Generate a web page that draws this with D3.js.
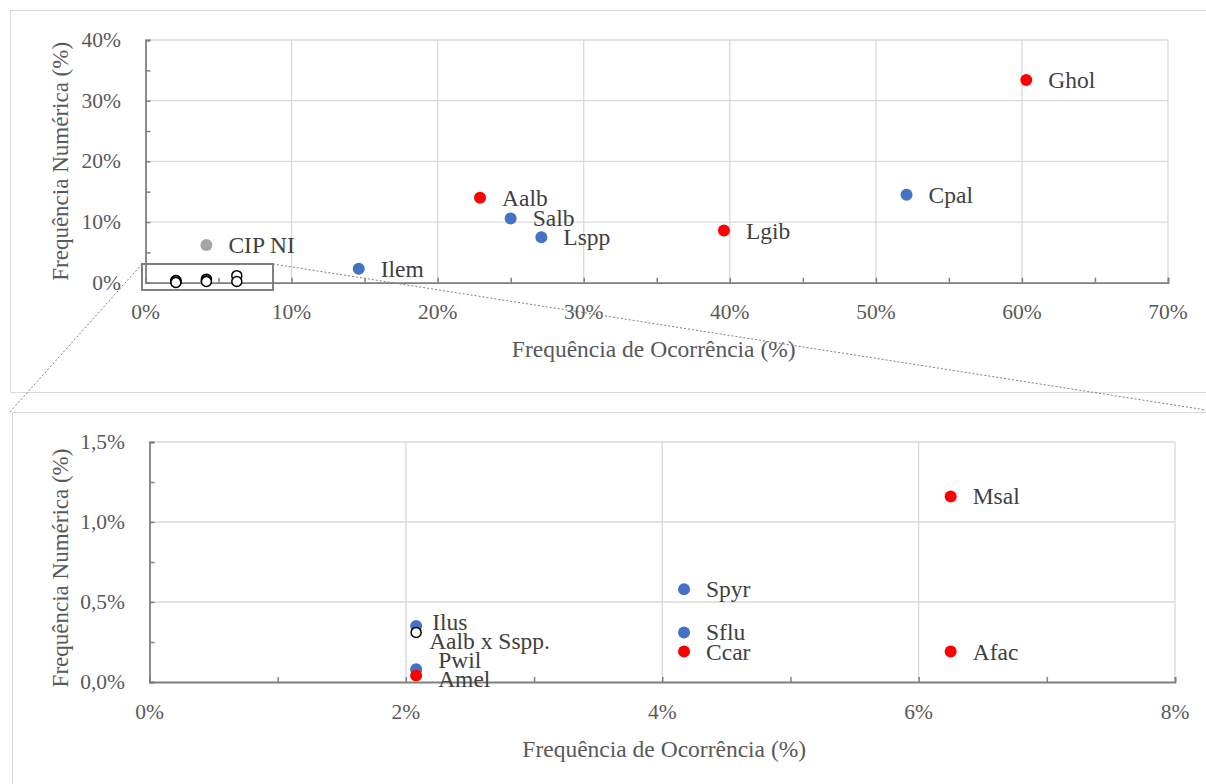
<!DOCTYPE html>
<html>
<head>
<meta charset="utf-8">
<script src="https://cdn.jsdelivr.net/npm/d3@7"></script>
<style>
  body { margin: 0; background: #fff; }
  svg { display: block; font-family: "Liberation Serif", "Times New Roman", serif; }
</style>
</head>
<body>
<svg id="chart" width="1206" height="784"></svg>
<script>
// ---- data (fractions) ----
var mainNames = ["Ghol", "Cpal", "Lgib", "Aalb", "Salb", "Lspp", "Ilem", "CIP NI"];
var mainFO    = [0.603, 0.521, 0.396, 0.229, 0.250, 0.271, 0.146, 0.0417];
var mainFN    = [0.334, 0.145, 0.086, 0.140, 0.106, 0.075, 0.023, 0.062];
var mainGroup = ["red", "blue", "red", "red", "blue", "blue", "blue", "grey"];

var rareNames = ["Msal", "Afac", "Spyr", "Sflu", "Ccar", "Ilus", "Aalb x Sspp.", "Pwil", "Amel"];
var rareFO    = [0.0625, 0.0625, 0.0417, 0.0417, 0.0417, 0.0208, 0.0208, 0.0208, 0.0208];
var rareFN    = [0.0116, 0.0019, 0.0058, 0.0031, 0.0019, 0.0035, 0.0031, 0.0008, 0.0004];
var rareGroup = ["red", "red", "blue", "blue", "red", "blue", "hybrid", "blue", "red"];

var topXTicks = [0, 0.1, 0.2, 0.3, 0.4, 0.5, 0.6, 0.7];
var topYTicks = [0, 0.1, 0.2, 0.3, 0.4];
var botXTicks = [0, 0.02, 0.04, 0.06, 0.08];
var botYTicks = [0, 0.005, 0.010, 0.015];

// label nudges for crowded points [dx, dy] in px
var labelNudge = {
  "Ilus": [16, -4], "Aalb x Sspp.": [13, 9], "Pwil": [22, -9], "Amel": [22, 3]
};

var colors = { red: "#ff0000", blue: "#4472c4", grey: "#a5a5a5" };
var pctInt = function (d) { return Math.round(d * 100) + "%"; };
var pctComma = function (d) { return (d * 100).toFixed(1).replace(".", ",") + "%"; };

var svg = d3.select("#chart");

// frames
svg.append("rect").attr("x", 10.5).attr("y", 10.5).attr("width", 1210).attr("height", 382)
  .attr("fill", "none").attr("stroke", "#d9d9d9");
svg.append("rect").attr("x", 12.5).attr("y", 412.5).attr("width", 1210).attr("height", 400)
  .attr("fill", "none").attr("stroke", "#d9d9d9");

function panel(opt) {
  var x = d3.scaleLinear().domain(opt.xDomain).range([opt.left, opt.right]);
  var y = d3.scaleLinear().domain(opt.yDomain).range([opt.bottom, opt.top]);
  var g = svg.append("g");

  // grid
  g.selectAll(".gx").data(opt.xTicks.slice(1)).join("line")
    .attr("x1", function (d) { return x(d); }).attr("x2", function (d) { return x(d); })
    .attr("y1", opt.top).attr("y2", opt.bottom)
    .attr("stroke", "#d9d9d9").attr("stroke-width", 1.3);
  g.selectAll(".gy").data(opt.yTicks.slice(1)).join("line")
    .attr("y1", function (d) { return y(d); }).attr("y2", function (d) { return y(d); })
    .attr("x1", opt.left).attr("x2", opt.right)
    .attr("stroke", "#d9d9d9").attr("stroke-width", 1.3);

  // axes
  var ax = g.append("g").attr("transform", "translate(0," + opt.bottom + ")")
    .call(d3.axisTop(x).tickValues(d3.range(opt.xDomain[0], opt.xDomain[1] + 1e-9, opt.xMinor))
      .tickSize(5).tickFormat(""));
  var ay = g.append("g").attr("transform", "translate(" + opt.left + ",0)")
    .call(d3.axisRight(y).tickValues(d3.range(opt.yDomain[0], opt.yDomain[1] + 1e-9, opt.yMinor))
      .tickSize(5).tickFormat(""));
  [ax, ay].forEach(function (a) {
    a.select(".domain").attr("stroke", "#7f7f7f").attr("stroke-width", 1.8);
    a.selectAll(".tick line").attr("stroke", "#7f7f7f").attr("stroke-width", 1.5);
  });

  // tick labels
  g.selectAll(".lx").data(opt.xTicks).join("text")
    .attr("x", function (d) { return x(d); }).attr("y", opt.bottom + 36.5)
    .attr("text-anchor", "middle").attr("font-size", 21.5).attr("fill", "#595959")
    .text(opt.fmt);
  g.selectAll(".ly").data(opt.yTicks).join("text")
    .attr("x", opt.left - 24.5).attr("y", function (d) { return y(d) + 7; })
    .attr("text-anchor", "end").attr("font-size", 21.5).attr("fill", "#595959")
    .text(opt.yFmt);

  // titles
  g.append("text").attr("x", (opt.left + opt.right) / 2 + opt.xtDx).attr("y", opt.bottom + opt.xtDy)
    .attr("text-anchor", "middle").attr("font-size", 23.5).attr("fill", "#595959")
    .text("Frequência de Ocorrência (%)");
  g.append("text")
    .attr("transform", "translate(68," + ((opt.top + opt.bottom) / 2 + opt.ytDy) + ") rotate(-90)")
    .attr("text-anchor", "middle").attr("font-size", 23).attr("fill", "#595959")
    .text("Frequência Numérica (%)");

  return { x: x, y: y, g: g };
}

function drawPoints(p, names, fo, fn, group, labels) {
  var pts = names.map(function (n, i) { return { name: n, fo: fo[i], fn: fn[i], group: group[i] }; });
  var pg = p.g.append("g");
  pg.selectAll("circle").data(pts).join("circle")
    .attr("cx", function (d) { return p.x(d.fo); })
    .attr("cy", function (d) { return p.y(d.fn); })
    .attr("r", function (d) { return d.group === "hybrid" ? 5 : 6; })
    .attr("fill", function (d) { return d.group === "hybrid" ? "#fff" : colors[d.group]; })
    .attr("stroke", function (d) { return d.group === "hybrid" ? "#000" : "none"; })
    .attr("stroke-width", 1.5);
  if (!labels) return;
  pg.selectAll("text").data(pts).join("text")
    .attr("x", function (d) { return p.x(d.fo) + (labelNudge[d.name] ? labelNudge[d.name][0] : 22); })
    .attr("y", function (d) { return p.y(d.fn) + 8 + (labelNudge[d.name] ? labelNudge[d.name][1] : 0); })
    .attr("font-size", 23.5).attr("fill", "#404040")
    .text(function (d) { return d.name; });
}

// top panel
var topP = panel({
  xDomain: [0, 0.7], yDomain: [0, 0.4], left: 145.5, right: 1168, top: 40, bottom: 282.7,
  xTicks: topXTicks, yTicks: topYTicks, xMinor: 0.05, yMinor: 0.05, fmt: pctInt, yFmt: pctInt,
  xtDx: -3, xtDy: 74, ytDy: 0
});
drawPoints(topP, mainNames, mainFO, mainFN, mainGroup, true);
// rare species shown as open circles in the overview
drawPoints(topP, rareNames, rareFO, rareFN, rareNames.map(function () { return "hybrid"; }), false);

// zoom box in the overview
var zx = [-0.0024, 0.0873], zy = [-0.012, 0.0308];
topP.g.append("rect")
  .attr("x", topP.x(zx[0])).attr("y", topP.y(zy[1]))
  .attr("width", topP.x(zx[1]) - topP.x(zx[0])).attr("height", topP.y(zy[0]) - topP.y(zy[1]))
  .attr("fill", "none").attr("stroke", "#7f7f7f").attr("stroke-width", 2);
svg.append("line").attr("x1", topP.x(zx[0])).attr("y1", topP.y(zy[1]))
  .attr("x2", 10).attr("y2", 412).attr("stroke", "#7f7f7f").attr("stroke-dasharray", "2,2");
svg.append("line").attr("x1", topP.x(zx[1])).attr("y1", topP.y(zy[1]))
  .attr("x2", 1206).attr("y2", 410).attr("stroke", "#7f7f7f").attr("stroke-dasharray", "2,2");

// bottom panel
var botP = panel({
  xDomain: [0, 0.08], yDomain: [0, 0.015], left: 149.5, right: 1175, top: 442, bottom: 682,
  xTicks: botXTicks, yTicks: botYTicks, xMinor: 0.01, yMinor: 0.0025,
  fmt: function (d) { return Math.round(d * 100) + "%"; }, yFmt: pctComma,
  xtDx: 2, xtDy: 75, ytDy: 6
});
drawPoints(botP, rareNames, rareFO, rareFN, rareGroup, true);
</script>
</body>
</html>
